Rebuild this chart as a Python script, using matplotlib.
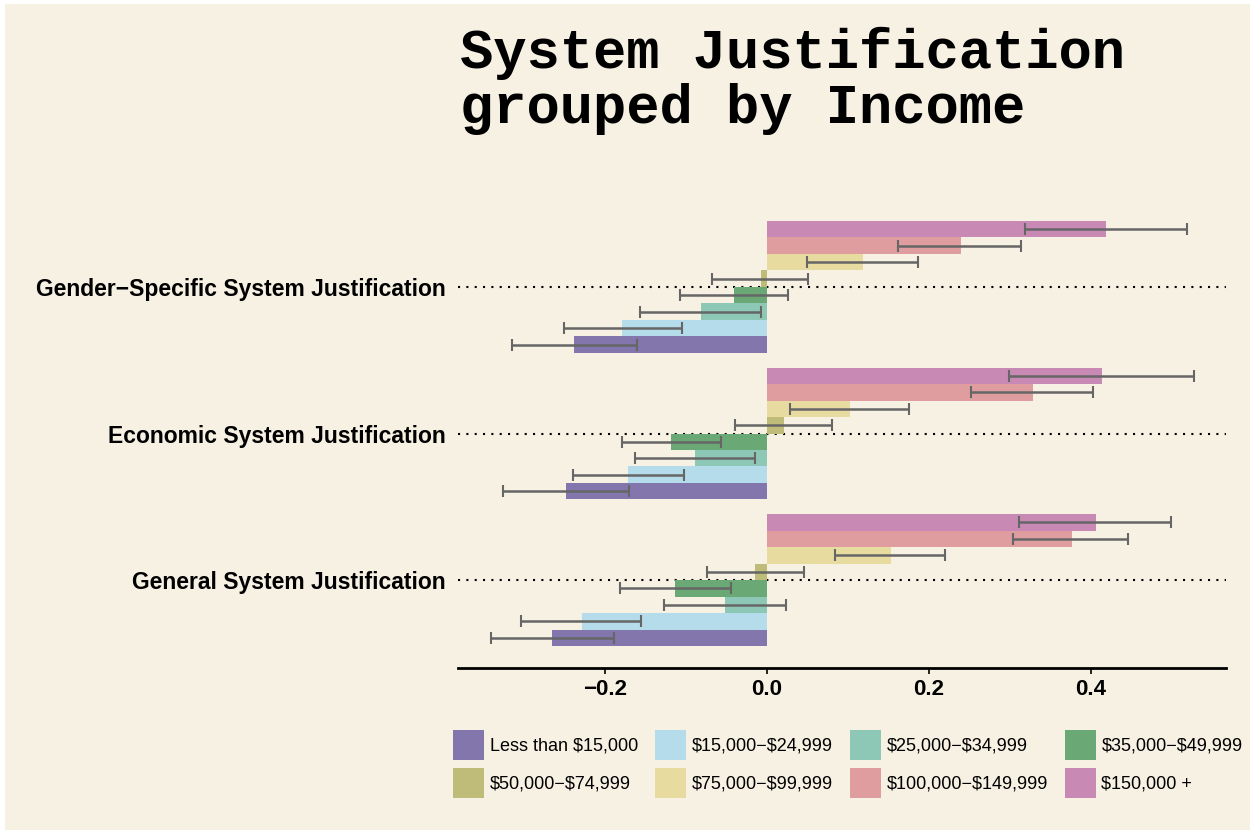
import matplotlib
matplotlib.use("Agg")
import matplotlib.pyplot as plt
import matplotlib.patches as mpatches
import numpy as np

categories = ["General System Justification", "Economic System Justification",
              "Gender\u2212Specific System Justification"]
groups = ["Less than \\$15,000", "\\$15,000\u2212\\$24,999", "\\$25,000\u2212\\$34,999",
          "\\$35,000\u2212\\$49,999", "\\$50,000\u2212\\$74,999", "\\$75,000\u2212\\$99,999",
          "\\$100,000\u2212\\$149,999", "\\$150,000 +"]
colors = ["#8276AC", "#B4DCEA", "#8DC7B6", "#6AA875", "#BFBC7A", "#E8DBA0",
          "#DF9DA0", "#C889B5"]

# values[group][category] in order General, Economic, Gender-Specific
means = [
    [-0.265, -0.248, -0.238],
    [-0.229, -0.172, -0.179],
    [-0.052, -0.089, -0.082],
    [-0.114, -0.119, -0.041],
    [-0.0146, 0.021, -0.008],
    [0.153, 0.103, 0.118],
    [0.376, 0.328, 0.239],
    [0.406, 0.414, 0.419],
]
err_centers = [
    [-0.265, -0.248, -0.238],
    [-0.2295, -0.171, -0.178],
    [-0.052, -0.089, -0.082],
    [-0.113, -0.118, -0.041],
    [-0.0146, 0.0205, -0.0085],
    [0.152, 0.102, 0.118],
    [0.375, 0.327, 0.238],
    [0.405, 0.413, 0.418],
]
err_half = [
    [0.076, 0.078, 0.077],
    [0.074, 0.068, 0.073],
    [0.075, 0.074, 0.075],
    [0.068, 0.061, 0.067],
    [0.060, 0.060, 0.059],
    [0.068, 0.073, 0.069],
    [0.071, 0.075, 0.076],
    [0.094, 0.114, 0.100],
]
xticks = [-0.2, 0.0, 0.2, 0.4]
xtick_labels = ["\u22120.2", "0.0", "0.2", "0.4"]
title = "System Justification\ngrouped by Income"

bg = "#F7F1E4"
fig = plt.figure(figsize=(12.55, 8.34), dpi=100, facecolor="white")
fig.patches.append(mpatches.Rectangle((5 / 1255, 4 / 834), 1245 / 1255, 826 / 834,
                                      transform=fig.transFigure, facecolor=bg,
                                      edgecolor="none", zorder=-10))

ax = fig.add_axes([458 / 1255, 1 - 668 / 834, 768 / 1255, (668 - 199) / 834])
ax.set_facecolor(bg)

ng = len(groups)
total = 0.9
bw = total / ng
ypos = np.arange(len(categories))
for gi in range(ng):
    offs = -total / 2 + bw * (gi + 0.5)
    y = ypos + offs
    ax.barh(y, means[gi], height=bw, color=colors[gi], edgecolor="none", zorder=2)
    ax.errorbar(err_centers[gi], y, xerr=err_half[gi], fmt="none", ecolor="#666666",
                elinewidth=1.8, capsize=4, capthick=1.5, zorder=3)

ax.set_xlim(-0.3815, 0.5667)
ax.set_ylim(-0.6, 2.6)
ax.set_yticks(ypos)
ax.set_yticklabels(categories, fontsize=16.5, fontweight="bold",
                   family="Liberation Sans")
ax.set_xticks(xticks)
ax.set_xticklabels(xtick_labels, fontsize=16, fontweight="bold",
                   family="Liberation Sans")
ax.tick_params(axis="y", length=0, pad=9)
ax.tick_params(axis="x", length=4, width=1.2, pad=4)
ax.yaxis.grid(True, linestyle=(0, (1, 3)), color="black", linewidth=1.5, zorder=0)
ax.xaxis.grid(False)
ax.set_axisbelow(True)
for s in ["top", "right", "left"]:
    ax.spines[s].set_visible(False)
ax.spines["bottom"].set_linewidth(2)

fig.text(460 / 1255, 1 - 81 / 834, title, fontsize=40, fontweight="bold",
         family="Liberation Mono", va="center", ha="left", linespacing=1.06)

# legend filled row by row (4 columns)
ncol = 4
nrow = 2
order = [r * ncol + c for c in range(ncol) for r in range(nrow)]
handles = [mpatches.Patch(facecolor=colors[i], edgecolor="none") for i in order]
labels = [groups[i] for i in order]
leg = fig.legend(handles, labels, loc="center", ncol=ncol,
                 bbox_to_anchor=(848 / 1255, 1 - 764 / 834), frameon=False,
                 prop={"family": "Liberation Sans", "size": 13},
                 handlelength=1.72, handleheight=2.2, handletextpad=0.3,
                 columnspacing=0.95, labelspacing=0.4, borderpad=0)

fig.savefig("out.png", dpi=100, facecolor="white")
